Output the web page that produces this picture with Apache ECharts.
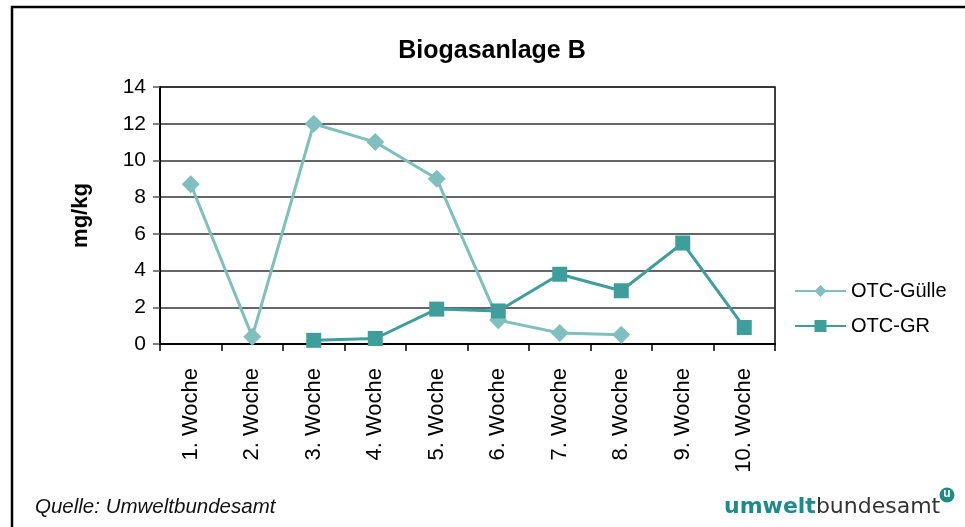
<!DOCTYPE html>
<html>
<head>
<meta charset="utf-8">
<script src="https://cdn.jsdelivr.net/npm/echarts@6/dist/echarts.min.js"></script>
<style>
  html, body { margin: 0; padding: 0; background: #fff; }
  #container { width: 965px; height: 527px; }
</style>
</head>
<body>
<div id="container"></div>
<script>
// Biogasanlage B - OTC Gehalte
var wochen = ['1. Woche', '2. Woche', '3. Woche', '4. Woche', '5. Woche',
              '6. Woche', '7. Woche', '8. Woche', '9. Woche', '10. Woche'];
var otcGuelle = [8.7, 0.4, 12, 11, 9, 1.3, 0.6, 0.5, null, null];
var otcGR = [null, null, 0.2, 0.3, 1.9, 1.8, 3.8, 2.9, 5.5, 0.9];

var fontFam = 'Liberation Sans, Arial, sans-serif';

var myChart = echarts.init(document.getElementById('container'));
var option = {
    backgroundColor: '#fff',
    animation: false,
    textStyle: { fontFamily: fontFam, color: '#000' },
    title: {
        text: 'Biogasanlage B',
        left: 487,
        textAlign: 'center',
        top: 34,
        textStyle: { fontSize: 25, fontWeight: 'bold', color: '#000', fontFamily: fontFam }
    },
    legend: {
        orient: 'vertical',
        left: 789,
        top: 276,
        itemWidth: 51,
        itemHeight: 15,
        itemGap: 15,
        textStyle: { fontSize: 20, color: '#000', fontFamily: fontFam },
        data: ['OTC-Gülle', 'OTC-GR']
    },
    grid: {
        left: 160,
        right: 190,
        top: 87,
        bottom: 183,
        show: true,
        borderColor: '#000',
        borderWidth: 1.5
    },
    xAxis: {
        type: 'category',
        data: wochen,
        boundaryGap: true,
        axisLine: { lineStyle: { color: '#000', width: 2 } },
        axisTick: { show: true, inside: false, length: 7, alignWithLabel: false, lineStyle: { color: '#000', width: 1.5 } },
        axisLabel: { rotate: 90, fontSize: 22, color: '#000', margin: 24, fontFamily: fontFam }
    },
    yAxis: {
        type: 'value',
        min: 0,
        max: 14,
        interval: 2,
        name: 'mg/kg',
        nameLocation: 'middle',
        nameGap: 68,
        nameTextStyle: { fontSize: 22, fontWeight: 'bold', color: '#000', fontFamily: fontFam },
        axisLine: { show: true, lineStyle: { color: '#000', width: 2 } },
        axisTick: { show: true, inside: false, length: 7, lineStyle: { color: '#555', width: 1.5 } },
        axisLabel: { fontSize: 21, color: '#000', margin: 14, fontFamily: fontFam },
        splitLine: { show: true, lineStyle: { color: '#333', width: 1.5 } }
    },
    series: [{
        name: 'OTC-Gülle',
        type: 'line',
        data: otcGuelle,
        symbol: 'diamond',
        symbolSize: 18,
        color: '#7fbfbd',
        lineStyle: { color: '#7fbfbd', width: 3 },
        itemStyle: { color: '#7fbfbd' }
    }, {
        name: 'OTC-GR',
        type: 'line',
        data: otcGR,
        symbol: 'rect',
        symbolSize: 15,
        color: '#3e9e9b',
        lineStyle: { color: '#3e9e9b', width: 3 },
        itemStyle: { color: '#3e9e9b' }
    }],
    graphic: [{
        type: 'rect',
        shape: { x: 12, y: 7, width: 1000, height: 600 },
        style: { fill: 'none', stroke: '#000', lineWidth: 2.5 },
        silent: true
    }, {
        type: 'text',
        left: 35,
        top: 497,
        style: { text: 'Quelle: Umweltbundesamt', font: 'italic 20.5px ' + fontFam, fill: '#111' }
    }, {
        type: 'text',
        left: 724,
        top: 496,
        style: {
            text: '{a|umwelt}{b|bundesamt}',
            rich: {
                a: { fontSize: 22, fontWeight: 'bold', fill: '#1f8b88', fontFamily: 'DejaVu Sans, sans-serif' },
                b: { fontSize: 22, fill: '#333', fontFamily: 'DejaVu Sans, sans-serif' }
            }
        }
    }, {
        type: 'circle',
        shape: { cx: 947, cy: 495, r: 7.5 },
        style: { fill: '#1f8b88' }
    }, {
        type: 'text',
        style: { x: 947, y: 494, text: 'u', align: 'center', verticalAlign: 'middle', font: 'bold 12px ' + fontFam, fill: '#fff' }
    }]
};

myChart.setOption(option);
</script>
</body>
</html>
